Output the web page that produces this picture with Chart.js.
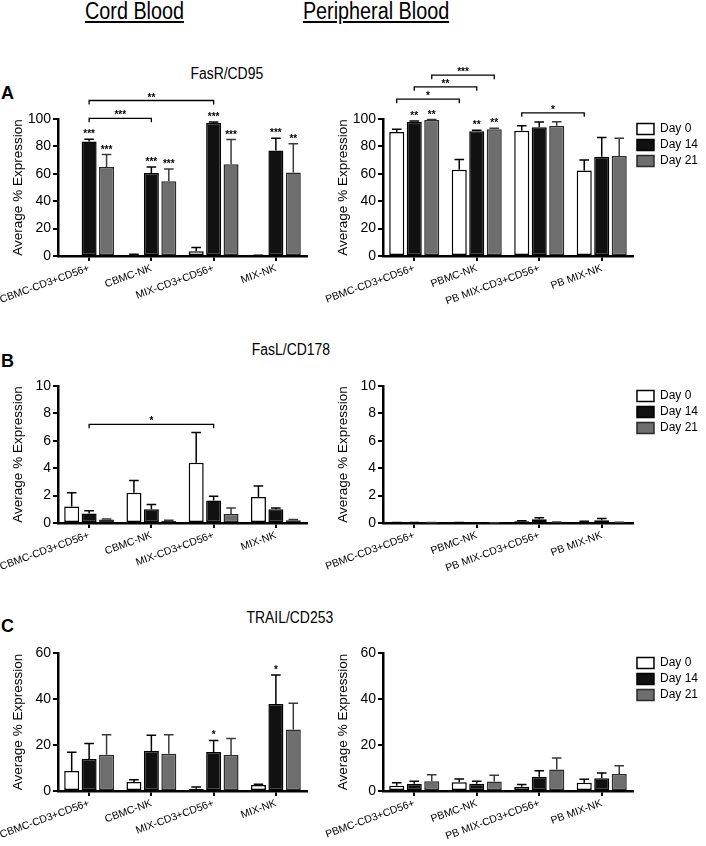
<!DOCTYPE html>
<html>
<head>
<meta charset="utf-8">
<script src="https://cdn.jsdelivr.net/npm/chart.js@4/dist/chart.umd.min.js"></script>
<style>
  body { margin: 0; background: #fff; }
  #page { position: relative; width: 706px; height: 846px; overflow: hidden; background: #fff;
          font-family: Arial, "Liberation Sans", Helvetica, sans-serif; color: #000; }
  #page canvas { position: absolute; }
  .txt { position: absolute; text-align: center; line-height: 1; white-space: nowrap; }
  .txt span { display: inline-block; }
  .head { font-size: 23px; }
  .head span { transform: scaleX(0.86); text-decoration: underline; text-underline-offset: 2px; }
  .title { font-size: 16px; }
  .title span { transform: scaleX(0.87); }
  .letter { position: absolute; font-size: 18px; font-weight: bold; line-height: 1; }
</style>
</head>
<body>
<div id="page">
  <div class="txt head" style="left:35px; top:0px; width:200px;"><span>Cord Blood</span></div>
  <div class="txt head" style="left:276px; top:0px; width:200px;"><span>Peripheral Blood</span></div>

  <div class="letter" style="left:1px; top:84px;">A</div>
  <div class="letter" style="left:1px; top:352px;">B</div>
  <div class="letter" style="left:1px; top:617px;">C</div>

  <div class="txt title" style="left:167px; top:66px; width:120px;"><span>FasR/CD95</span></div>
  <div class="txt title" style="left:231px; top:342px; width:120px;"><span>FasL/CD178</span></div>
  <div class="txt title" style="left:230px; top:610px; width:120px;"><span>TRAIL/CD253</span></div>

  <canvas id="fasrCord" width="320" height="245" style="left:0; top:60px;"></canvas>
  <canvas id="fasrPeri" width="390" height="245" style="left:318px; top:60px;"></canvas>
  <canvas id="faslCord" width="320" height="202" style="left:0; top:370px;"></canvas>
  <canvas id="faslPeri" width="390" height="202" style="left:318px; top:370px;"></canvas>
  <canvas id="trailCord" width="320" height="205" style="left:0; top:635px;"></canvas>
  <canvas id="trailPeri" width="390" height="205" style="left:318px; top:635px;"></canvas>
</div>

<script>
const days = ["Day 0", "Day 14", "Day 21"];
const cordGroups = ["CBMC-CD3+CD56+", "CBMC-NK", "MIX-CD3+CD56+", "MIX-NK"];
const periGroups = ["PBMC-CD3+CD56+", "PBMC-NK", "PB MIX-CD3+CD56+", "PB MIX-NK"];

// FasR/CD95 - cord blood (mean and SEM)
const fasrCordDay0 = [0, 0.8, 3.5, 0.4];
const fasrCordDay0Err = [0, 0.4, 2.7, 0.2];
const fasrCordDay14 = [83.5, 60.5, 97, 77];
const fasrCordDay14Err = [1.8, 4.5, 0.8, 9];
const fasrCordDay21 = [65, 54.5, 67, 61];
const fasrCordDay21Err = [9, 9, 18, 21];
const fasrCordStars = [["", "", "", ""], ["***", "***", "***", "***"], ["***", "***", "***", "**"]];

// FasR/CD95 - peripheral blood
const fasrPeriDay0 = [90.5, 63, 91.5, 62.5];
const fasrPeriDay0Err = [2, 7.5, 3.5, 7.5];
const fasrPeriDay14 = [98, 91, 94, 72.5];
const fasrPeriDay14Err = [0.5, 0.8, 3.8, 14];
const fasrPeriDay21 = [99.3, 92.5, 95, 73];
const fasrPeriDay21Err = [0.3, 0.8, 3, 13];
const fasrPeriStars = [["", "", "", ""], ["**", "**", "", ""], ["**", "**", "", ""]];

// FasL/CD178 - cord blood
const faslCordDay0 = [1.2, 2.2, 4.4, 1.9];
const faslCordDay0Err = [1.0, 0.9, 2.2, 0.8];
const faslCordDay14 = [0.7, 1.0, 1.65, 1.0];
const faslCordDay14Err = [0.2, 0.35, 0.3, 0.1];
const faslCordDay21 = [0.25, 0.15, 0.65, 0.2];
const faslCordDay21Err = [0.05, 0.05, 0.45, 0.05];

// FasL/CD178 - peripheral blood
const faslPeriDay0 = [0.02, 0.02, 0.12, 0.08];
const faslPeriDay0Err = [0.01, 0.01, 0.05, 0.04];
const faslPeriDay14 = [0.03, 0.01, 0.28, 0.2];
const faslPeriDay14Err = [0.01, 0.01, 0.1, 0.13];
const faslPeriDay21 = [0.02, 0.01, 0.05, 0.03];
const faslPeriDay21Err = [0.01, 0.01, 0.02, 0.02];

// TRAIL/CD253 - cord blood
const trailCordDay0 = [8.7, 3.9, 1.0, 2.6];
const trailCordDay0Err = [8.1, 1.0, 0.7, 0.3];
const trailCordDay14 = [13.9, 17.4, 17, 37.8];
const trailCordDay14Err = [6.7, 6.8, 5, 12.6];
const trailCordDay21 = [15.8, 16.2, 15.7, 26.7];
const trailCordDay21Err = [8.7, 8.3, 7.1, 11.4];
const trailCordStars = [["", "", "", ""], ["", "", "*", "*"], ["", "", "", ""]];

// TRAIL/CD253 - peripheral blood
const trailPeriDay0 = [2.3, 3.8, 1.9, 3.6];
const trailPeriDay0Err = [1.3, 1.4, 0.9, 1.5];
const trailPeriDay14 = [3.2, 3.2, 6.2, 5.5];
const trailPeriDay14Err = [1.0, 1.0, 2.6, 2.3];
const trailPeriDay21 = [4.2, 4.1, 9.4, 7.4];
const trailPeriDay21Err = [2.9, 2.7, 4.9, 3.6];

// significance brackets: [group, day] -> [group, day] at a value on the y scale
const fasrCordBrackets = [
    {from: [0, 1], to: [1, 1], y: 100.5, label: "***"},
    {from: [0, 1], to: [2, 1], y: 113.5, label: "**"}
];
const fasrPeriBrackets = [
    {from: [0, 0], to: [1, 0], y: 114.5, label: "*"},
    {from: [0, 1], to: [1, 1], y: 123.5, label: "**"},
    {from: [0, 2], to: [1, 2], y: 132, label: "***"},
    {from: [2, 0], to: [3, 0], y: 104.5, label: "*"}
];
const faslCordBrackets = [
    {from: [0, 1], to: [2, 1], y: 7.2, label: "*"}
];

const fills = ["#ffffff", "#111111", "#6e6e6e"];
const edges = ["#000000", "#000000", "#2a2a2a"];

Chart.defaults.font.family = 'Arial, "Liberation Sans", Helvetica, sans-serif';
Chart.defaults.color = "#000";

// error bars, stars over bars and the comparison brackets
const annotatePlugin = {
    id: "annotate",
    afterDatasetsDraw(chart) {
        const ctx = chart.ctx;
        const yScale = chart.scales.y;
        ctx.save();
        chart.data.datasets.forEach((ds, di) => {
            const meta = chart.getDatasetMeta(di);
            meta.data.forEach((bar, i) => {
                const top = yScale.getPixelForValue(ds.data[i]);
                const errTop = yScale.getPixelForValue(ds.data[i] + ds.errors[i]);
                if (ds.errors[i] > 0) {
                    const half = bar.width * 0.32;
                    ctx.strokeStyle = ds.errorColor;
                    ctx.lineWidth = 1.5;
                    ctx.beginPath();
                    ctx.moveTo(bar.x, top);
                    ctx.lineTo(bar.x, errTop);
                    ctx.moveTo(bar.x - half, errTop);
                    ctx.lineTo(bar.x + half, errTop);
                    ctx.stroke();
                }
                if (ds.stars && ds.stars[i]) {
                    ctx.fillStyle = "#000";
                    ctx.font = "bold 10px Arial, 'Liberation Sans', sans-serif";
                    ctx.textAlign = "center";
                    ctx.textBaseline = "alphabetic";
                    ctx.fillText(ds.stars[i], bar.x, errTop - 2);
                }
            });
        });
        (chart.data.brackets || []).forEach((b) => {
            const x1 = chart.getDatasetMeta(b.from[1]).data[b.from[0]].x;
            const x2 = chart.getDatasetMeta(b.to[1]).data[b.to[0]].x;
            const y = yScale.getPixelForValue(b.y);
            ctx.strokeStyle = "#000";
            ctx.lineWidth = 1.3;
            ctx.beginPath();
            ctx.moveTo(x1, y + 4);
            ctx.lineTo(x1, y);
            ctx.lineTo(x2, y);
            ctx.lineTo(x2, y + 4);
            ctx.stroke();
            ctx.fillStyle = "#000";
            ctx.font = "bold 10px Arial, 'Liberation Sans', sans-serif";
            ctx.textAlign = "center";
            ctx.textBaseline = "alphabetic";
            ctx.fillText(b.label, (x1 + x2) / 2, y);
        });
        ctx.restore();
    }
};

function makeDatasets(values, errors, stars) {
    return days.map((day, k) => ({
        label: day,
        data: values[k],
        errors: errors[k],
        stars: stars ? stars[k] : null,
        backgroundColor: fills[k],
        borderColor: edges[k],
        errorColor: k === 2 ? "#3a3a3a" : "#000",
        borderWidth: 1.5,
        borderSkipped: false
    }));
}

function makeChart(id, groups, values, errors, stars, brackets, yMax, yStep, side, padTop) {
    const isPeri = side === "peri";
    return new Chart(document.getElementById(id), {
        type: "bar",
        data: {
            labels: groups,
            datasets: makeDatasets(values, errors, stars),
            brackets: brackets
        },
        options: {
            responsive: false,
            animation: false,
            devicePixelRatio: 1,
            layout: {padding: {top: padTop, right: isPeri ? 0 : 13, left: 0, bottom: 0}},
            datasets: {bar: {categoryPercentage: 0.84, barPercentage: 0.86}},
            plugins: {
                tooltip: {enabled: false},
                legend: {
                    display: isPeri,
                    position: "right",
                    align: "start",
                    fullSize: false,
                    labels: {boxWidth: 17, boxHeight: 11, padding: 4, color: "#000", font: {size: 12}}
                }
            },
            scales: {
                x: {
                    grid: {display: true, drawOnChartArea: false, offset: false, tickLength: 5, color: "#000", lineWidth: 2},
                    border: {display: true, color: "#000", width: 2.5},
                    ticks: {color: "#000", font: {size: 10.5}, minRotation: 20, maxRotation: 20, autoSkip: false, padding: 1},
                    afterFit: (s) => { s.height = 49; s.paddingLeft = 0; s.paddingRight = 0; }
                },
                y: {
                    min: 0,
                    max: yMax,
                    ticks: {stepSize: yStep, color: "#000", font: {size: 14}, padding: 2},
                    grid: {display: true, drawOnChartArea: false, tickLength: 5, color: "#000", lineWidth: 2},
                    border: {display: true, color: "#000", width: 2.5},
                    title: {display: true, text: "Average % Expression", color: "#000", font: {size: 13.5},
                            padding: {top: isPeri ? 17 : 10, bottom: 0}},
                    afterFit: (s) => { s.width = isPeri ? 65 : 58; }
                }
            }
        },
        plugins: [annotatePlugin]
    });
}

const fasrCordChart = makeChart("fasrCord", cordGroups,
    [fasrCordDay0, fasrCordDay14, fasrCordDay21],
    [fasrCordDay0Err, fasrCordDay14Err, fasrCordDay21Err],
    fasrCordStars, fasrCordBrackets, 100, 20, "cord", 59);

const fasrPeriChart = makeChart("fasrPeri", periGroups,
    [fasrPeriDay0, fasrPeriDay14, fasrPeriDay21],
    [fasrPeriDay0Err, fasrPeriDay14Err, fasrPeriDay21Err],
    fasrPeriStars, fasrPeriBrackets, 100, 20, "peri", 59);

const faslCordChart = makeChart("faslCord", cordGroups,
    [faslCordDay0, faslCordDay14, faslCordDay21],
    [faslCordDay0Err, faslCordDay14Err, faslCordDay21Err],
    null, faslCordBrackets, 10, 2, "cord", 16);

const faslPeriChart = makeChart("faslPeri", periGroups,
    [faslPeriDay0, faslPeriDay14, faslPeriDay21],
    [faslPeriDay0Err, faslPeriDay14Err, faslPeriDay21Err],
    null, [], 10, 2, "peri", 16);

const trailCordChart = makeChart("trailCord", cordGroups,
    [trailCordDay0, trailCordDay14, trailCordDay21],
    [trailCordDay0Err, trailCordDay14Err, trailCordDay21Err],
    trailCordStars, [], 60, 20, "cord", 18);

const trailPeriChart = makeChart("trailPeri", periGroups,
    [trailPeriDay0, trailPeriDay14, trailPeriDay21],
    [trailPeriDay0Err, trailPeriDay14Err, trailPeriDay21Err],
    null, [], 60, 20, "peri", 18);
</script>
</body>
</html>
